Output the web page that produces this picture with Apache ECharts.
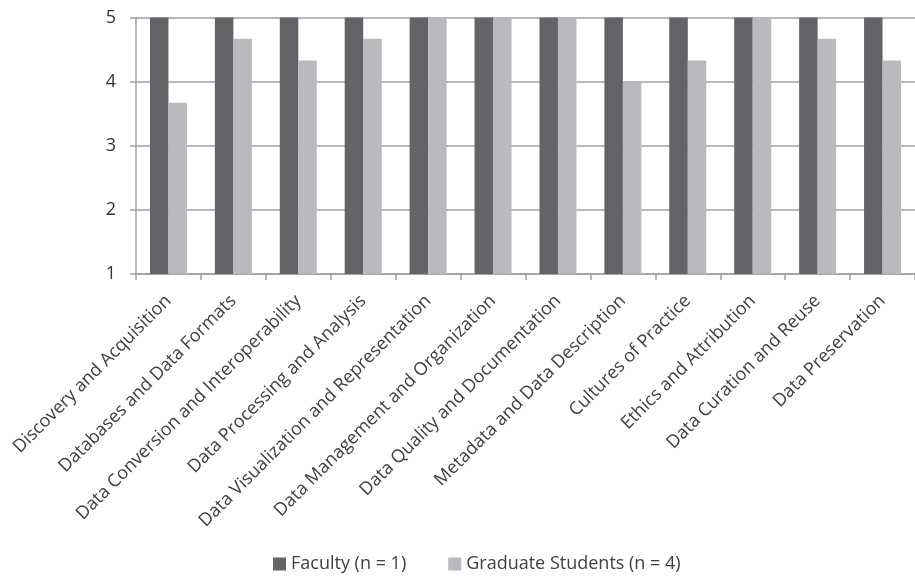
<!DOCTYPE html>
<html>
<head>
<meta charset="utf-8">
<script src="https://cdn.jsdelivr.net/npm/echarts@6/dist/echarts.min.js"></script>
<style>
html,body{margin:0;padding:0;background:#fff;}
#main{width:915px;height:584px;}
</style>
</head>
<body>
<div id="main"></div>
<script>
var categories = [
  "Discovery and Acquisition",
  "Databases and Data Formats",
  "Data Conversion and Interoperability",
  "Data Processing and Analysis",
  "Data Visualization and Representation",
  "Data Management and Organization",
  "Data Quality and Documentation",
  "Metadata and Data Description",
  "Cultures of Practice",
  "Ethics and Attribution",
  "Data Curation and Reuse",
  "Data Preservation"
];
var facultyValues = [5, 5, 5, 5, 5, 5, 5, 5, 5, 5, 5, 5];
var gradValues = [3.67, 4.67, 4.33, 4.67, 5, 5, 5, 4, 4.33, 5, 4.67, 4.33];
var seriesNames = ["Faculty (n = 1)", "Graduate Students (n = 4)"];

var chart = echarts.init(document.getElementById('main'), null, {renderer: 'canvas'});
var font = "'Open Sans', 'Noto Sans', sans-serif";
chart.setOption({
  animation: false,
  backgroundColor: '#ffffff',
  textStyle: {fontFamily: font},
  legend: {
    bottom: 6,
    left: 268,
    itemWidth: 13,
    itemHeight: 13,
    itemGap: 42,
    icon: 'rect',
    textStyle: {fontSize: 18, color: '#404040', fontFamily: font},
    data: seriesNames
  },
  grid: {left: 136, top: 17.5, width: 784, bottom: 310, containLabel: false},
  xAxis: {
    type: 'category',
    data: categories,
    axisLine: {lineStyle: {color: '#a0a0a0', width: 1.5}},
    axisTick: {show: true, length: 6, lineStyle: {color: '#a0a0a0', width: 1.5}},
    axisLabel: {
      rotate: 45,
      interval: 0,
      fontSize: 18,
      color: '#404040',
      margin: 24,
      fontFamily: font
    }
  },
  yAxis: {
    type: 'value',
    min: 1,
    max: 5,
    interval: 1,
    axisLine: {show: true, lineStyle: {color: '#a0a0a0', width: 1.5}},
    axisTick: {show: true, length: 6, lineStyle: {color: '#a0a0a0', width: 1.5}},
    splitLine: {lineStyle: {color: '#a0a0a0', width: 1.5}},
    axisLabel: {fontSize: 18, color: '#333333', margin: 20, fontFamily: font}
  },
  series: [
    {
      name: seriesNames[0],
      type: 'bar',
      data: facultyValues,
      barWidth: 18.5,
      barGap: '0%',
      itemStyle: {color: '#646468'}
    },
    {
      name: seriesNames[1],
      type: 'bar',
      data: gradValues,
      barWidth: 18.5,
      barGap: '0%',
      itemStyle: {color: '#b9babd'}
    }
  ]
});
</script>
</body>
</html>
